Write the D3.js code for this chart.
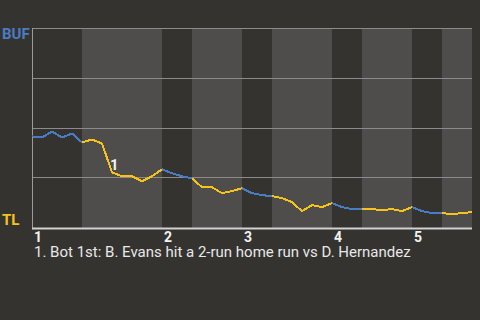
<!DOCTYPE html>
<html>
<head>
<meta charset="utf-8">
<script src="https://cdn.jsdelivr.net/npm/d3@7"></script>
<style>
  body { margin: 0; background-color: #353330; }
  #vis { width: 480px; height: 320px; }
</style>
</head>
<body>
<div id="vis"></div>
<script>
// win probability chart, BUF @ TL

// batters faced in each half inning (top 1, bot 1, top 2, ...)
let halfInnings = [5, 8, 3, 5, 3, 6, 3, 5, 3, 3]
let battingTeam = ['BUF', 'TL', 'BUF', 'TL', 'BUF', 'TL', 'BUF', 'TL', 'BUF', 'TL']

// BUF win probability (%) after each plate appearance
let winProb = [45.5, 45, 48, 45, 47, 42.5, 44, 42, 27.5, 25.5,
  25.5, 23, 25.5, 29, 27, 25.5, 24.5, 20, 20, 17,
  18, 19.5, 17, 16, 15.5, 14.5, 12.5, 8, 11, 10,
  12, 10, 9, 9, 9, 8.5, 9, 8, 10, 8,
  7, 7, 6.5, 7, 7.5]

let inningLabels = ['1', '2', '3', '4', '5']
let gridValues = [25, 50, 75, 100]

// key plays
let notes = [{ idx: 8, label: '1', text: '1. Bot 1st: B. Evans hit a 2-run home run vs D. Hernandez' }]

let teamColor = { BUF: '#4a7cc4', TL: '#f7c31a' }

let margin = { top: 28, left: 32, right: 8, bottom: 92 },
  width = 480 - margin.left - margin.right,
  height = 320 - margin.top - margin.bottom

let svg = d3.select('#vis')
  .append('svg')
  .attr('width', 480)
  .attr('height', 320)
  .style('font-family', 'Roboto, sans-serif')

svg.append('rect')
  .attr('width', 480)
  .attr('height', 320)
  .attr('fill', '#353330')

let g = svg.append('g')
  .attr('transform', 'translate(' + margin.left + ',' + margin.top + ')')

let total = d3.sum(halfInnings)
let x = d3.scaleLinear().domain([0, total]).range([0, width])
let y = d3.scaleLinear().domain([0, 100]).range([height - 1, 0])

// start index of every half inning
let starts = []
let acc = 0
halfInnings.forEach(function(n) { starts.push(acc); acc += n })

// shaded bands, bottom halves lighter
g.selectAll('.band')
  .data(halfInnings)
  .enter().append('rect')
  .attr('class', 'band')
  .attr('x', (d, i) => x(starts[i]))
  .attr('y', 0)
  .attr('width', (d, i) => x(starts[i] + d) - x(starts[i]))
  .attr('height', height)
  .attr('fill', (d, i) => i % 2 == 0 ? '#353330' : '#4e4d4b')

// horizontal grid
g.selectAll('.grid')
  .data(gridValues)
  .enter().append('line')
  .attr('x1', 0)
  .attr('x2', width)
  .attr('y1', d => Math.round(y(d)) + 0.5)
  .attr('y2', d => Math.round(y(d)) + 0.5)
  .attr('stroke', '#8c8b89')
  .attr('stroke-width', 1)

// axes lines
g.append('line')
  .attr('x1', 0.5).attr('x2', 0.5)
  .attr('y1', 0).attr('y2', height + 1)
  .attr('stroke', '#9c9b99')
g.append('line')
  .attr('x1', 0).attr('x2', width)
  .attr('y1', height + 0.5).attr('y2', height + 0.5)
  .attr('stroke', '#d2d2d0')
  .attr('stroke-width', 2)

// line, one piece per half inning coloured by batting team
let line = d3.line()
  .x(d => x(d.i))
  .y(d => y(d.v))

halfInnings.forEach(function(n, h) {
  let pts = d3.range(starts[h], starts[h] + n + 1)
    .filter(i => i < winProb.length)
    .map(i => ({ i: i, v: winProb[i] }))
  g.append('path')
    .datum(pts)
    .attr('d', line)
    .attr('fill', 'none')
    .attr('stroke', teamColor[battingTeam[h]])
    .attr('stroke-width', 2)
    .attr('shape-rendering', 'crispEdges')
})

// inning labels under the axis
g.selectAll('.tick')
  .data(inningLabels)
  .enter().append('text')
  .attr('x', (d, i) => x(starts[i * 2]) + 2)
  .attr('y', height + 14)
  .attr('fill', '#f2f2f2')
  .style('font-size', '14px')
  .style('font-weight', 'bold')
  .text(d => d)

// note markers on the line
g.selectAll('.note')
  .data(notes)
  .enter().append('text')
  .attr('x', d => x(d.idx) - 2)
  .attr('y', d => y(winProb[d.idx]) - 2)
  .attr('fill', '#f2f2f2')
  .style('font-size', '15px')
  .style('font-weight', 'bold')
  .text(d => d.label)

// note text below
g.selectAll('.noteText')
  .data(notes)
  .enter().append('text')
  .attr('x', 2)
  .attr('y', height + 29)
  .attr('fill', '#e8e8e8')
  .style('font-size', '15px')
  .text(d => d.text)

// team labels
svg.append('text')
  .attr('x', 2)
  .attr('y', margin.top + 11)
  .attr('fill', teamColor.BUF)
  .style('font-size', '15px')
  .style('font-weight', 'bold')
  .text('BUF')
svg.append('text')
  .attr('x', 2)
  .attr('y', margin.top + height - 3)
  .attr('fill', teamColor.TL)
  .style('font-size', '15px')
  .style('font-weight', 'bold')
  .text('TL')
</script>
</body>
</html>
